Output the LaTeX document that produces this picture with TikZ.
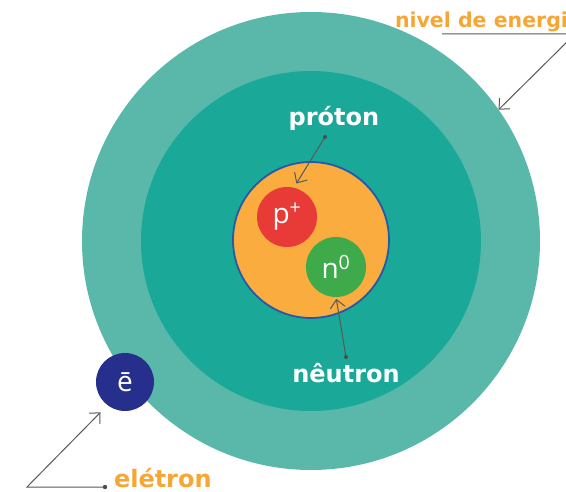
\documentclass[tikz,border=0pt]{standalone}
\usepackage{fontspec}
\setmainfont{DejaVu Sans}
\newfontfamily\thinfont{Open Sans}
\usetikzlibrary{arrows.meta}

\definecolor{shellout}{RGB}{90,184,171}
\definecolor{shellin}{RGB}{26,168,152}
\definecolor{nucfill}{RGB}{250,172,62}
\definecolor{nucline}{RGB}{40,88,170}
\definecolor{protred}{RGB}{232,58,54}
\definecolor{neutgreen}{RGB}{62,170,74}
\definecolor{elecblue}{RGB}{38,48,140}
\definecolor{lblorange}{RGB}{246,166,52}

\begin{document}
\begin{tikzpicture}[
    x=1pt, y=-1pt,
    every node/.style={inner sep=0pt, outer sep=0pt},
    disc/.style={circle},
    ball/.style={circle, minimum size=60pt, text=white, font=\thinfont\fontsize{28}{28}\selectfont},
    lbl/.style={font=\bfseries\fontsize{24}{24}\selectfont, text=white},
    olbl/.style={lbl, text=lblorange},
    leader/.style={draw=black!65, line width=1pt},
    >={Straight Barb[length=8pt, width=15pt]},
]
\clip (0,0) rectangle (566,492);
\useasboundingbox (0,0) rectangle (566,492);

\node[disc, fill=shellout, minimum size=458pt] (shell) at (311,241) {};
\node[disc, fill=shellin, minimum size=340pt] (level) at (311,241) {};
\node[disc, fill=nucfill, draw=nucline, line width=1.8pt, minimum size=156pt] (nucleus) at (311,240) {};
\node[ball, fill=protred] (proton) at (287,217) {p\textsuperscript{+}};
\node[ball, fill=neutgreen] (neutron) at (336,267) {n\textsuperscript{0}};
\node[ball, fill=elecblue, minimum size=58pt] (electron) at (125,382) {ē};

\node[lbl, anchor=base] (protlbl) at (334,126) {próton};
\node[lbl, anchor=base] (neutlbl) at (346,382) {nêutron};
\node[olbl, anchor=base west] (eleclbl) at (114,487) {elétron};
\node[olbl, font=\bfseries\fontsize{20.5}{20.5}\selectfont, anchor=base west] (levellbl) at (395,28) {nivel de energia};

\coordinate (prottail) at (325,137);
\coordinate (neuttail) at (346,357);
\coordinate (elecdot) at (105,487);
\coordinate (eleccorner) at (27,487);
\coordinate (levelstart) at (442,34);
\coordinate (levelcorner) at (575,34);

\draw[leader, ->, shorten >=5pt] (prottail) -- (proton.77);
\draw[leader, ->, shorten >=2pt] (neuttail) -- (neutron.-90);
\draw[leader, ->, shorten >=10pt] (elecdot) -- (eleccorner) -- (electron.233);
\draw[leader, ->] (levelstart) -- (levelcorner) -- (shell.35);
\fill[black!70] (prottail) circle (2pt);
\fill[black!70] (neuttail) circle (2pt);
\fill[black!70] (elecdot) circle (2.2pt);
\end{tikzpicture}
\end{document}
